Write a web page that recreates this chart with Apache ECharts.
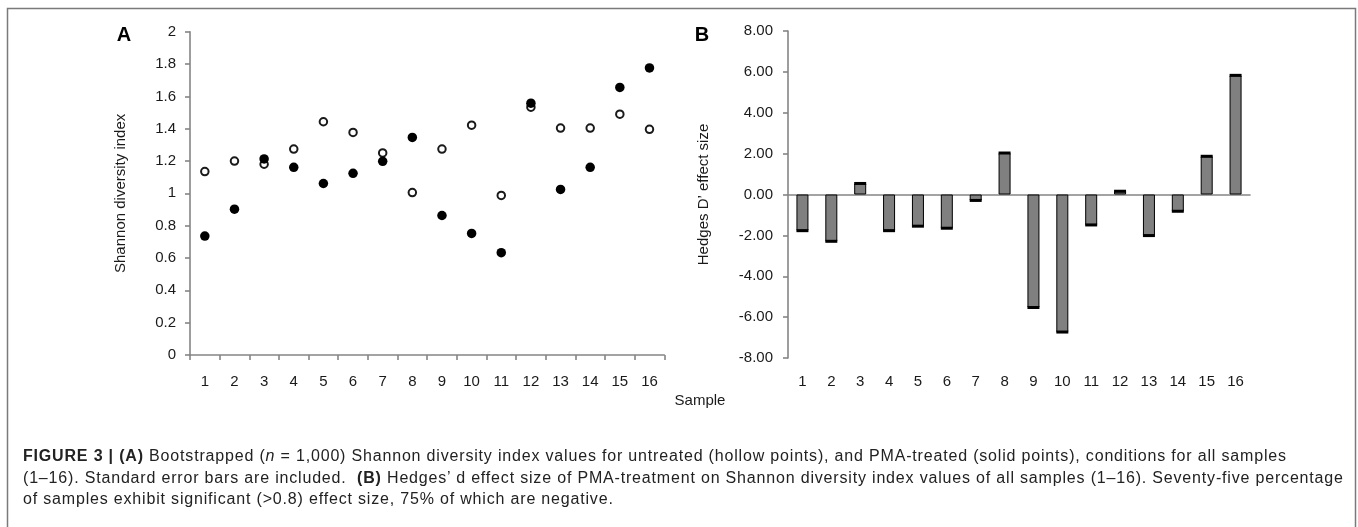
<!DOCTYPE html>
<html>
<head>
<meta charset="utf-8">
<script src="https://cdn.jsdelivr.net/npm/echarts@6/dist/echarts.min.js"></script>
<style>
html,body{margin:0;padding:0;background:#fff;}
#wrap{position:relative;width:1358px;height:527px;overflow:hidden;}
#chart{position:absolute;left:0;top:0;width:1358px;height:527px;}
#caption{position:absolute;left:23px;top:445px;width:1330px;font-family:'Liberation Sans',Arial,sans-serif;font-size:16px;line-height:21.5px;color:#222;letter-spacing:0.82px;white-space:nowrap;}
#caption b{font-weight:bold;}
</style>
</head>
<body>
<div id="wrap">
<div id="chart"></div>
<div id="caption"><b>FIGURE 3 | (A)</b> Bootstrapped (<i>n</i> = 1,000) Shannon diversity index values for untreated (hollow points), and PMA-treated (solid points), conditions for all samples<br>(1–16). Standard error bars are included.&nbsp; <b>(B)</b> Hedges’ d effect size of PMA-treatment on Shannon diversity index values of all samples (1–16). Seventy-five percentage<br>of samples exhibit significant (&gt;0.8) effect size, 75% of which are negative.</div>
</div>
<script>
const samples = ['1','2','3','4','5','6','7','8','9','10','11','12','13','14','15','16'];
const untreated = [1.135,1.20,1.18,1.274,1.443,1.377,1.25,1.005,1.274,1.422,0.987,1.533,1.404,1.404,1.490,1.396];
const pmaTreated = [0.736,0.902,1.213,1.161,1.061,1.124,1.198,1.346,0.863,0.752,0.633,1.558,1.024,1.161,1.655,1.776];
const hedgesD = [-1.77,-2.29,0.54,-1.77,-1.55,-1.65,-0.29,2.03,-5.53,-6.73,-1.49,0.16,-2.01,-0.82,1.87,5.83];

const font = "'Liberation Sans',Arial,sans-serif";
const axisGrey = '#858585';
const txt = '#1a1a1a';

const chart = echarts.init(document.getElementById('chart'), null, {renderer:'canvas'});

const axisLabelStyle = {color: txt, fontFamily: font, fontSize: 15};

const option = {
  animation: false,
  grid: [
    {left: 190, top: 31.7, width: 474.3, height: 323.3},
    {left: 788, top: 31, width: 462, height: 327}
  ],
  xAxis: [
    {
      gridIndex: 0, type: 'category', data: samples, boundaryGap: true,
      axisLine: {show: true, lineStyle: {color: axisGrey, width: 1.6}},
      axisTick: {show: true, length: 5, lineStyle: {color: axisGrey, width: 1.6}},
      axisLabel: Object.assign({margin: 19}, axisLabelStyle),
      splitLine: {show: false}
    },
    {
      gridIndex: 1, type: 'category', data: samples, boundaryGap: true, position: 'bottom',
      axisLine: {show: false, onZero: false},
      axisTick: {show: false},
      axisLabel: Object.assign({margin: 16}, axisLabelStyle),
      splitLine: {show: false}
    },
    {
      gridIndex: 1, type: 'category', data: samples, boundaryGap: true,
      axisLine: {show: true, onZero: true, lineStyle: {color: axisGrey, width: 1.6}},
      axisTick: {show: false},
      axisLabel: {show: false},
      splitLine: {show: false}
    }
  ],
  yAxis: [
    {
      gridIndex: 0, type: 'value', min: 0, max: 2, interval: 0.2,
      name: 'Shannon diversity index', nameLocation: 'middle', nameGap: 62, nameRotate: 90,
      nameTextStyle: {color: txt, fontFamily: font, fontSize: 15},
      axisLine: {show: true, lineStyle: {color: axisGrey, width: 1.6}},
      axisTick: {show: true, length: 5, lineStyle: {color: axisGrey, width: 1.6}},
      axisLabel: Object.assign({margin: 14}, axisLabelStyle),
      splitLine: {show: false}
    },
    {
      gridIndex: 1, type: 'value', min: -8, max: 8, interval: 2,
      name: 'Hedges D\u2019 effect size', nameLocation: 'middle', nameGap: 77, nameRotate: 90,
      nameTextStyle: {color: txt, fontFamily: font, fontSize: 15},
      axisLine: {show: true, onZero: false, lineStyle: {color: axisGrey, width: 1.6}},
      axisTick: {show: true, length: 5, lineStyle: {color: axisGrey, width: 1.6}},
      axisLabel: Object.assign({margin: 15, formatter: v => v.toFixed(2)}, axisLabelStyle),
      splitLine: {show: false}
    }
  ],
  series: [
    {
      name: 'Untreated', type: 'scatter', xAxisIndex: 0, yAxisIndex: 0,
      data: untreated, symbol: 'circle', symbolSize: 7.5,
      itemStyle: {color: '#fff', borderColor: '#1a1a1a', borderWidth: 2, opacity: 1}
    },
    {
      name: 'PMA-treated', type: 'scatter', xAxisIndex: 0, yAxisIndex: 0,
      data: pmaTreated, symbol: 'circle', symbolSize: 9.5,
      itemStyle: {color: '#000', opacity: 1}
    },
    {
      name: 'Hedges d', type: 'bar', xAxisIndex: 1, yAxisIndex: 1,
      data: hedgesD, barWidth: 12,
      itemStyle: {color: '#808080', borderColor: '#000', borderWidth: 1}
    },
    {
      name: 'SE', type: 'scatter', xAxisIndex: 1, yAxisIndex: 1,
      data: hedgesD, symbol: 'rect', symbolSize: [12, 3],
      itemStyle: {color: '#000', opacity: 1}, z: 3
    }
  ],
  graphic: [
    {type: 'rect', silent: true, shape: {x: 7.5, y: 8.5, width: 1348, height: 560},
      style: {fill: 'none', stroke: '#7a7a7a', lineWidth: 1.5}},
    {type: 'text', x: 124, y: 35, style: {text: 'A', font: "bold 20px 'Liberation Sans',Arial,sans-serif", fill: '#000', textAlign: 'center', textVerticalAlign: 'middle'}},
    {type: 'text', x: 702, y: 35, style: {text: 'B', font: "bold 20px 'Liberation Sans',Arial,sans-serif", fill: '#000', textAlign: 'center', textVerticalAlign: 'middle'}},
    {type: 'text', x: 700, y: 401, style: {text: 'Sample', fontFamily: font, fontSize: 15, fill: txt, textAlign: 'center', textVerticalAlign: 'middle'}}
  ]
};
chart.setOption(option);
</script>
</body>
</html>
